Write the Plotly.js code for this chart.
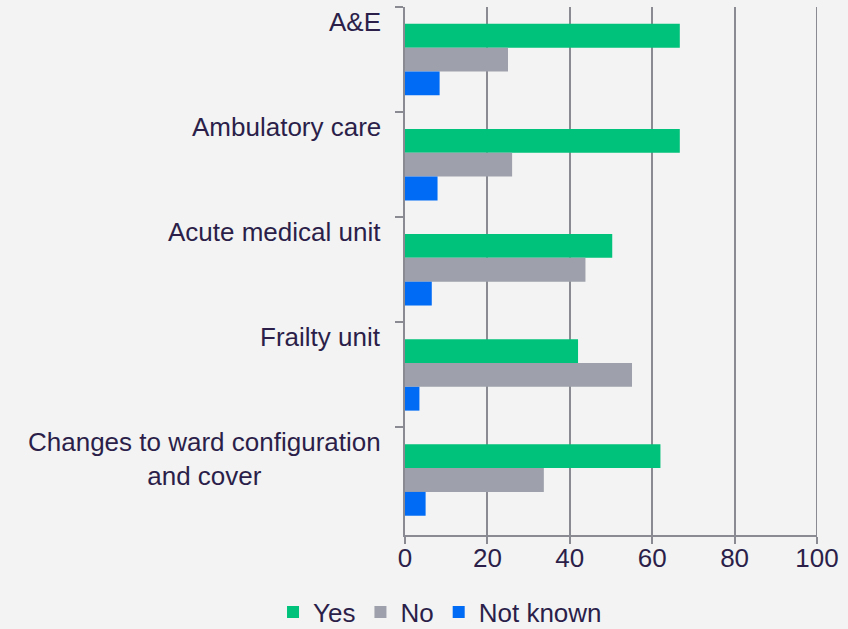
<!DOCTYPE html>
<html>
<head>
<meta charset="utf-8">
<script src="https://cdn.plot.ly/plotly-3.0.1.min.js"></script>
<style>
  html, body { margin: 0; padding: 0; background: #f3f3f3; }
  #chart { width: 848px; height: 629px; }
</style>
</head>
<body>
<div id="chart"></div>
<script>
const categories = ["A&E", "Ambulatory care", "Acute medical unit", "Frailty unit", "Changes to ward configuration and cover"];
const categoryLabels = ["A&E", "Ambulatory care", "Acute medical unit", "Frailty unit", "Changes to ward configuration<br>and cover"];
const seriesNames = ["Yes", "No", "Not known"];
const yesValues = [66.7, 66.7, 50.3, 42.0, 62.0];
const noValues = [25.0, 26.0, 43.8, 55.1, 33.7];
const notKnownValues = [8.4, 7.9, 6.5, 3.5, 5.0];
const seriesColors = ["#00c27a", "#9ea1ab", "#006cf5"];
const xTicks = [0, 20, 40, 60, 80, 100];

const textColor = "#2b1f4a";
const lineColor = "#8a8a92";
const fontFamily = "Liberation Sans, Arial, sans-serif";

const valueSets = [yesValues, noValues, notKnownValues];
const traces = valueSets.map((vals, i) => ({
  type: "bar",
  orientation: "h",
  name: seriesNames[i],
  x: vals,
  y: categories,
  marker: { color: seriesColors[i], line: { width: 0 } },
  hoverinfo: "x+name"
}));

const annotations = categories.map((c, i) => ({
  xref: "paper",
  yref: "y",
  x: 0,
  y: c,
  xanchor: "right",
  yanchor: "top",
  xshift: -22,
  yshift: 55,
  text: categoryLabels[i],
  align: "center",
  showarrow: false,
  font: { family: fontFamily, size: 26, color: textColor }
}));

const xMax = xTicks[xTicks.length - 1];

const layout = {
  width: 848,
  height: 629,
  paper_bgcolor: "#f3f3f3",
  plot_bgcolor: "#f3f3f3",
  margin: { l: 405, r: 31, t: 7, b: 94, autoexpand: false },
  barmode: "group",
  bargap: 0.32,
  bargroupgap: 0,
  font: { family: fontFamily, size: 26, color: textColor },
  xaxis: {
    range: [0, xMax],
    tickvals: xTicks,
    ticktext: xTicks.map(String),
    showgrid: true,
    gridcolor: lineColor,
    gridwidth: 2,
    zeroline: false,
    showline: true,
    linecolor: lineColor,
    linewidth: 2,
    ticks: "outside",
    ticklen: 7,
    tickwidth: 2,
    tickcolor: lineColor,
    ticklabelstandoff: -8,
    tickfont: { family: fontFamily, size: 26, color: textColor },
    fixedrange: true
  },
  yaxis: {
    type: "category",
    categoryorder: "array",
    categoryarray: categories,
    autorange: "reversed",
    showticklabels: false,
    ticks: "outside",
    tickson: "boundaries",
    ticklen: 8,
    tickwidth: 2,
    tickcolor: lineColor,
    showline: true,
    linecolor: lineColor,
    linewidth: 2,
    showgrid: false,
    zeroline: false,
    fixedrange: true
  },
  shapes: [{
    type: "line",
    xref: "x",
    yref: "paper",
    x0: xMax, x1: xMax,
    y0: 0, y1: 1,
    line: { color: lineColor, width: 2 },
    layer: "below"
  }],
  showlegend: true,
  legend: {
    orientation: "h",
    x: 0.085,
    xanchor: "center",
    y: -0.146,
    yanchor: "middle",
    font: { family: fontFamily, size: 26, color: textColor },
    bgcolor: "rgba(0,0,0,0)",
    itemclick: false,
    itemdoubleclick: false
  },
  annotations: annotations
};

Plotly.newPlot("chart", traces, layout, { displayModeBar: false, staticPlot: true });
</script>
</body>
</html>
